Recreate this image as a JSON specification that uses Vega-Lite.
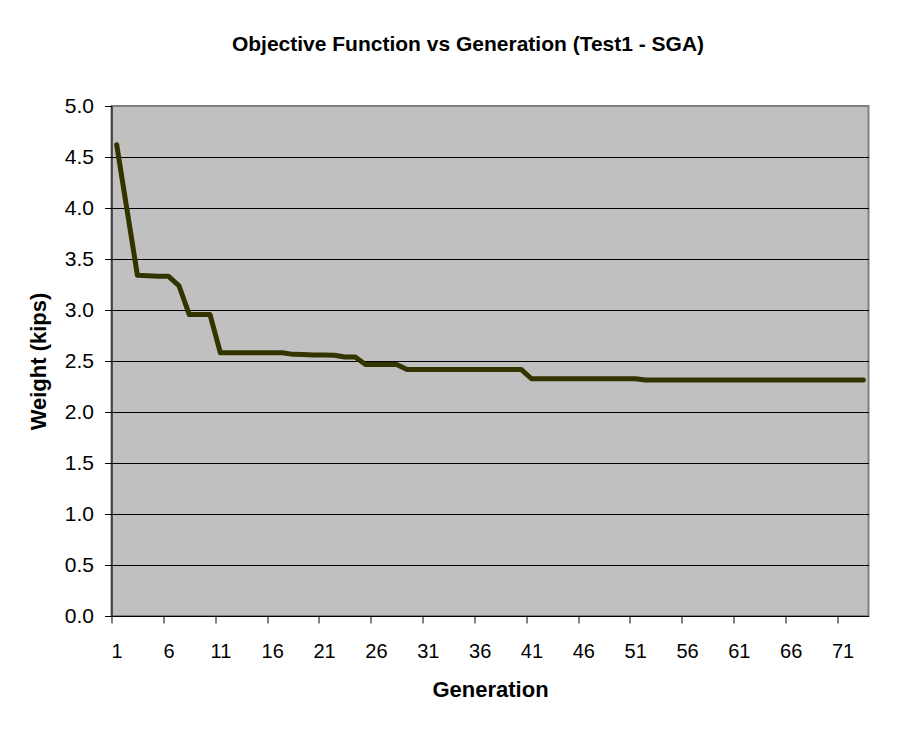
{
  "$schema": "https://vega.github.io/schema/vega-lite/v6.json",
  "width": 757,
  "height": 510,
  "autosize": {"type": "none"},
  "padding": {"left": 111.5, "top": 106, "right": 50.5, "bottom": 135},
  "background": "white",
  "title": {
    "text": "Objective Function vs Generation (Test1 - SGA)",
    "font": "Liberation Sans",
    "fontSize": 21,
    "fontWeight": "bold",
    "color": "black",
    "frame": "group",
    "anchor": "middle",
    "dx": -22,
    "baseline": "alphabetic",
    "offset": 23
  },
  "data": {
    "values": [
      {"generation": 1, "weight": 4.62},
      {"generation": 2, "weight": 3.98},
      {"generation": 3, "weight": 3.34},
      {"generation": 4, "weight": 3.335},
      {"generation": 5, "weight": 3.33},
      {"generation": 6, "weight": 3.33},
      {"generation": 7, "weight": 3.24},
      {"generation": 8, "weight": 2.955},
      {"generation": 9, "weight": 2.955},
      {"generation": 10, "weight": 2.955},
      {"generation": 11, "weight": 2.58},
      {"generation": 12, "weight": 2.58},
      {"generation": 13, "weight": 2.58},
      {"generation": 14, "weight": 2.58},
      {"generation": 15, "weight": 2.58},
      {"generation": 16, "weight": 2.58},
      {"generation": 17, "weight": 2.58},
      {"generation": 18, "weight": 2.565},
      {"generation": 19, "weight": 2.563},
      {"generation": 20, "weight": 2.56},
      {"generation": 21, "weight": 2.558},
      {"generation": 22, "weight": 2.557},
      {"generation": 23, "weight": 2.54},
      {"generation": 24, "weight": 2.54},
      {"generation": 25, "weight": 2.466},
      {"generation": 26, "weight": 2.466},
      {"generation": 27, "weight": 2.466},
      {"generation": 28, "weight": 2.466},
      {"generation": 29, "weight": 2.417},
      {"generation": 30, "weight": 2.417},
      {"generation": 31, "weight": 2.417},
      {"generation": 32, "weight": 2.417},
      {"generation": 33, "weight": 2.417},
      {"generation": 34, "weight": 2.417},
      {"generation": 35, "weight": 2.417},
      {"generation": 36, "weight": 2.417},
      {"generation": 37, "weight": 2.417},
      {"generation": 38, "weight": 2.417},
      {"generation": 39, "weight": 2.417},
      {"generation": 40, "weight": 2.417},
      {"generation": 41, "weight": 2.326},
      {"generation": 42, "weight": 2.326},
      {"generation": 43, "weight": 2.326},
      {"generation": 44, "weight": 2.326},
      {"generation": 45, "weight": 2.326},
      {"generation": 46, "weight": 2.326},
      {"generation": 47, "weight": 2.326},
      {"generation": 48, "weight": 2.326},
      {"generation": 49, "weight": 2.326},
      {"generation": 50, "weight": 2.326},
      {"generation": 51, "weight": 2.326},
      {"generation": 52, "weight": 2.313},
      {"generation": 53, "weight": 2.313},
      {"generation": 54, "weight": 2.313},
      {"generation": 55, "weight": 2.313},
      {"generation": 56, "weight": 2.313},
      {"generation": 57, "weight": 2.313},
      {"generation": 58, "weight": 2.313},
      {"generation": 59, "weight": 2.313},
      {"generation": 60, "weight": 2.313},
      {"generation": 61, "weight": 2.313},
      {"generation": 62, "weight": 2.313},
      {"generation": 63, "weight": 2.313},
      {"generation": 64, "weight": 2.313},
      {"generation": 65, "weight": 2.313},
      {"generation": 66, "weight": 2.313},
      {"generation": 67, "weight": 2.313},
      {"generation": 68, "weight": 2.313},
      {"generation": 69, "weight": 2.313},
      {"generation": 70, "weight": 2.313},
      {"generation": 71, "weight": 2.313},
      {"generation": 72, "weight": 2.313},
      {"generation": 73, "weight": 2.313}
    ]
  },
  "mark": {"type": "line", "color": "#333300", "strokeWidth": 5, "strokeJoin": "round", "strokeCap": "round"},
  "encoding": {
    "x": {
      "field": "generation",
      "type": "quantitative",
      "scale": {"domain": [0.5, 73.5], "nice": false, "zero": false},
      "axis": {
        "values": [1, 6, 11, 16, 21, 26, 31, 36, 41, 46, 51, 56, 61, 66, 71],
        "tickOffset": -5.185,
        "labelOffset": 5.185,
        "grid": false,
        "title": "Generation",
        "titleFont": "Liberation Sans",
        "titleFontSize": 22,
        "titleFontWeight": "bold",
        "titleColor": "black",
        "titleBaseline": "alphabetic",
        "titleY": 80,
        "labelFont": "Liberation Sans",
        "labelFontSize": 20,
        "labelColor": "black",
        "labelPadding": 18,
        "labelFlush": false,
        "labelOverlap": false,
        "tickSize": 7,
        "tickColor": "black",
        "domainColor": "black",
        "domainWidth": 1
      }
    },
    "y": {
      "field": "weight",
      "type": "quantitative",
      "scale": {"domain": [0, 5], "nice": false, "zero": true},
      "axis": {
        "values": [0, 0.5, 1, 1.5, 2, 2.5, 3, 3.5, 4, 4.5, 5],
        "format": ".1f",
        "grid": true,
        "gridColor": {"condition": {"test": "datum.value >= 5", "value": "#808080"}, "value": "#000000"},
        "gridOpacity": 1,
        "gridWidth": 1,
        "title": "Weight (kips)",
        "titleFont": "Liberation Sans",
        "titleFontSize": 22,
        "titleFontWeight": "bold",
        "titleColor": "black",
        "titleBaseline": "alphabetic",
        "titleX": -66,
        "titleY": 255,
        "labelFont": "Liberation Sans",
        "labelFontSize": 21,
        "labelColor": "black",
        "labelPadding": 11,
        "labelFlush": false,
        "labelOverlap": false,
        "tickSize": 7,
        "tickColor": "black",
        "domainColor": "black",
        "domainWidth": 1
      }
    }
  },
  "config": {
    "view": {"fill": "#C0C0C0", "stroke": "#808080", "strokeWidth": 2}
  }
}
